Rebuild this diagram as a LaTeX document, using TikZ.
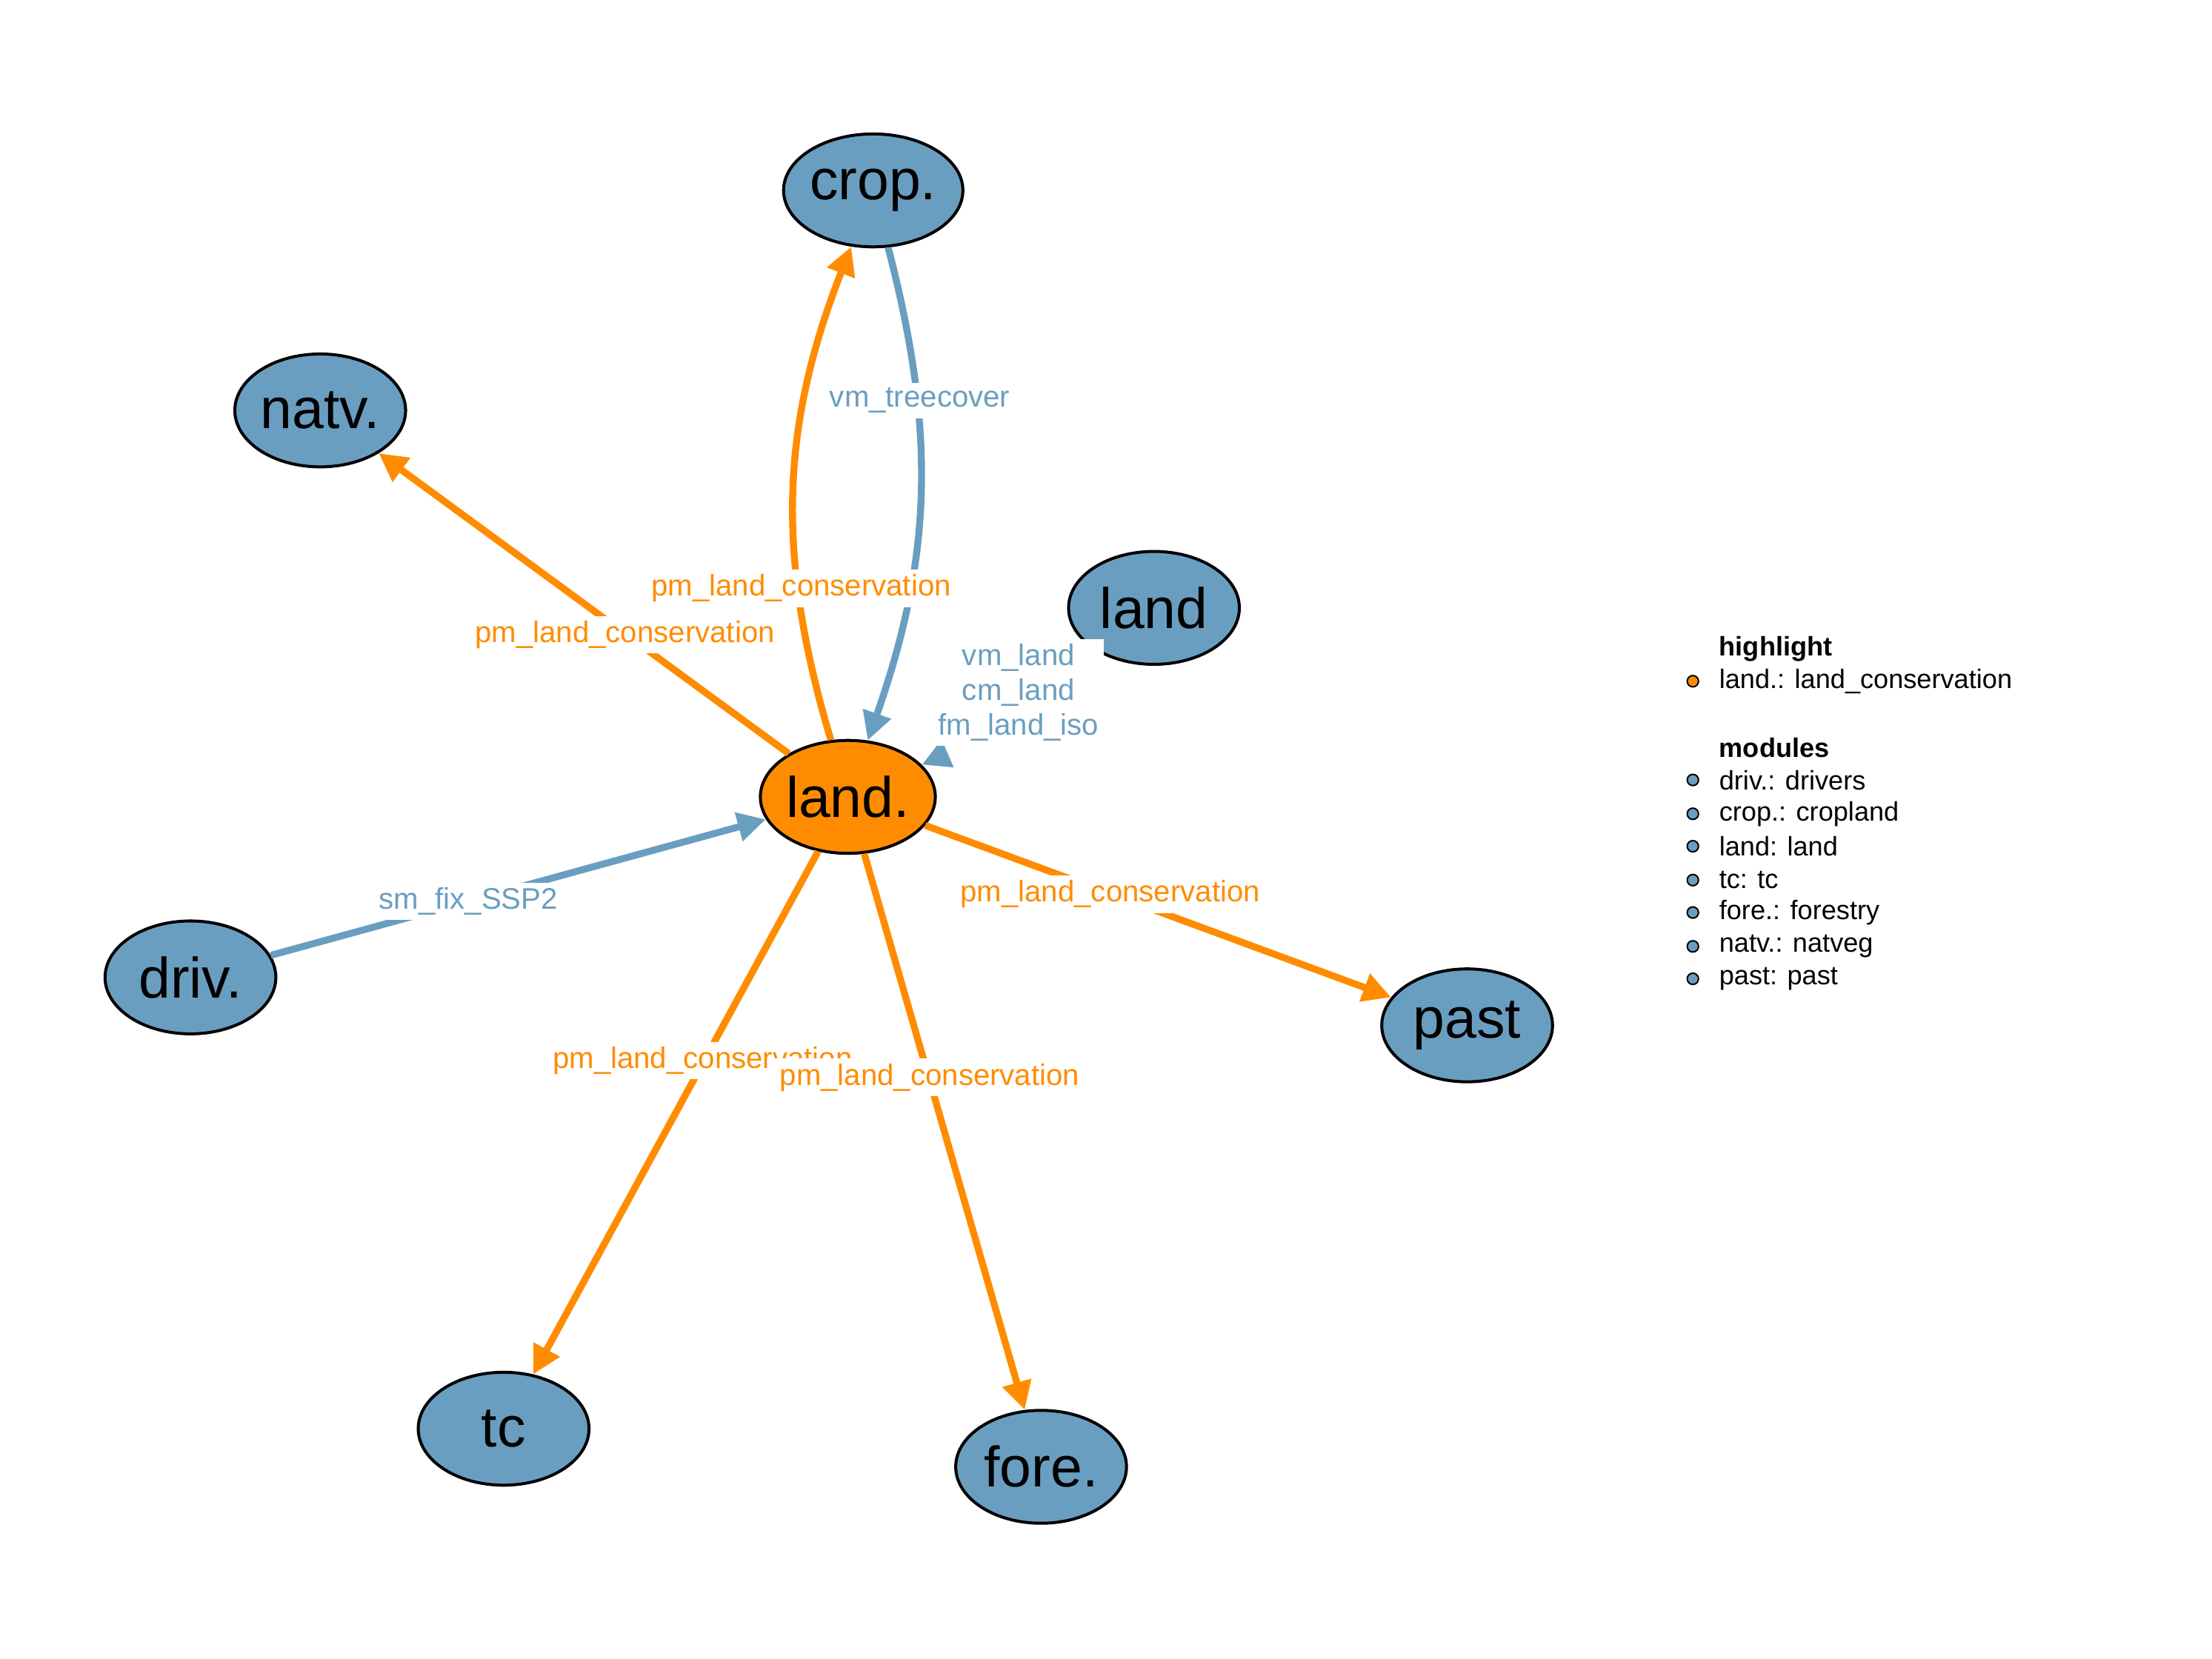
\documentclass[tikz,border=0pt]{standalone}
\usepackage{fontspec}
\setmainfont{Liberation Sans}
\usetikzlibrary{arrows.meta,shapes.geometric}
\definecolor{mblue}{HTML}{6A9EC0}
\definecolor{morange}{HTML}{FF8C00}
\begin{document}
\begin{tikzpicture}[x=0.01cm,y=-0.01cm,
  mod/.style={ellipse,draw=black,line width=0.6pt,fill=mblue,minimum width=1.21cm,minimum height=0.8cm,inner sep=0pt,font=\fontsize{11.5}{12}\selectfont},
  hl/.style={mod,fill=morange},
  oe/.style={draw=morange,line width=1.4pt,-{Triangle[length=0.2cm,width=0.2cm]}},
  be/.style={draw=mblue,line width=1.4pt,-{Triangle[length=0.2cm,width=0.2cm]}},
  ol/.style={fill=white,text=morange,inner sep=1pt,font=\fontsize{6}{7}\selectfont},
  bl/.style={fill=white,text=mblue,inner sep=1pt,font=\fontsize{6}{7}\selectfont,align=center},
  lg/.style={anchor=west,font=\fontsize{5.4}{6}\selectfont,inner sep=0pt},
  dot/.style={circle,draw=black,line width=0.3pt,inner sep=0pt,minimum size=0.08cm}]
\useasboundingbox (0,0) rectangle (1568,1176);
\node[mod] (crop) at (619,135) {crop.};
\node[mod] (natv) at (227,291) {natv.};
\node[mod] (landm) at (818,431) {land};
\node[hl] (land) at (601,565) {land.};
\node[mod] (driv) at (135,693) {driv.};
\node[mod] (past) at (1040,727) {past};
\node[mod] (tc) at (357,1013) {tc};
\node[mod] (fore) at (738,1040) {fore.};
\coordinate (stub) at (670,535);
% edges
\draw[oe] (land) to[bend left=19] (crop);
\draw[be] (crop) to[bend left=17] (land);
\draw[oe] (land) -- (natv);
\draw[be] (stub) -- (land);
\draw[be] (driv) -- (land);
\draw[oe] (land) -- (past);
\draw[oe] (land) -- (tc);
\draw[oe] (land) -- (fore);
% labels
\node[bl] (l1) at (652,284) {vm\_treecover};
\node[ol] (l2) at (568,417) {pm\_land\_conservation};
\node[ol] (l3) at (443,450) {pm\_land\_conservation};
\node[bl] (l4) at (722,491) {vm\_land\\cm\_land\\fm\_land\_iso};
\node[bl] (l5) at (332,639) {sm\_fix\_SSP2};
\node[ol] (l6) at (787,634) {pm\_land\_conservation};
\node[ol] (l7) at (498,752) {pm\_land\_conservation};
\node[ol] (l8) at (659,764) {pm\_land\_conservation};
% legend
\node[lg,font=\fontsize{5.4}{6}\selectfont\bfseries] (h1) at (1218,460) {highlight};
\node[dot,fill=morange] (d0) at (1200,483) {};
\node[lg] (t0) at (1218,483) {land.: land\_conservation};
\node[lg,font=\fontsize{5.4}{6}\selectfont\bfseries] (h2) at (1218,530) {modules};
\foreach \y/\t [count=\i] in {553/driv.: drivers,577/crop.: cropland,600/land: land,624/tc: tc,647/fore.: forestry,671/natv.: natveg,694/past: past}{
  \node[dot,fill=mblue] (d\i) at (1200,\y) {};
  \node[lg] (t\i) at (1218,\y) {\t};
}
\end{tikzpicture}
\end{document}
